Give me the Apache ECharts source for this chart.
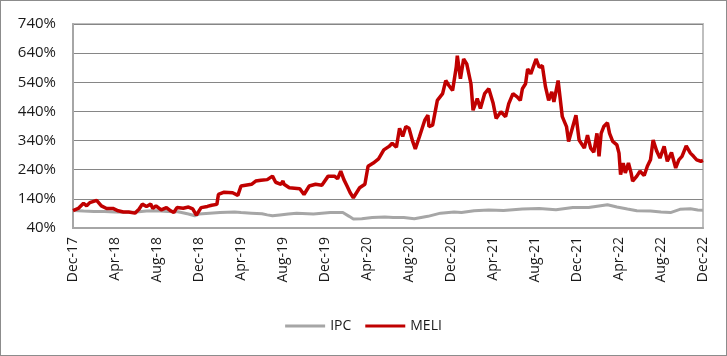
<!DOCTYPE html>
<html>
<head>
<meta charset="utf-8">
<script src="https://cdn.jsdelivr.net/npm/echarts@6/dist/echarts.min.js"></script>
<style>
  html, body { margin: 0; padding: 0; background: #fff; }
  #chart { width: 727px; height: 356px; box-sizing: border-box; border: 1px solid #8c8c8c; }
</style>
</head>
<body>
<div id="chart"></div>
<script>
// x positions are months elapsed since Dec-17
var xTickLabels = ['Dec-17','Apr-18','Aug-18','Dec-18','Apr-19','Aug-19','Dec-19','Apr-20',
                   'Aug-20','Dec-20','Apr-21','Aug-21','Dec-21','Apr-22','Aug-22','Dec-22'];

var ipcMonths = [0,1,2,3,4,5,6,7,8,9,10,11,11.6,12,13,14,15.4,16,17,18,18.5,19,19.7,20.5,21.3,22.9,24.5,25.7,26.3,26.7,27.5,28.5,29.7,30.5,31.5,32.5,33.8,35,36.3,37,38.2,39.6,41,42.8,44.4,46,47.6,49.1,49.6,50.9,51.8,52.8,53.7,55,56,56.9,57.8,58.8,59.5,60];
var ipcValues = [100,98,97,97,95,94,95,98,99,97,96,88,82,88,91,93,95,93,91,89,85,82,85,88,91,88,93,93,80,71,72,76,78,76,76,72,80,91,95,93,99,102,100,105,107,103,110,110,113,120,112,105,99,98,95,93,104,106,102,101];

var meliMonths = [0,0.5,1.0,1.3,1.6,2.25,2.7,3.2,3.8,4.3,4.8,5.3,5.9,6.3,6.6,7.0,7.4,7.6,7.9,8.4,8.9,9.3,9.6,9.9,10.5,11.0,11.4,11.75,12.2,12.8,13.2,13.7,13.85,14.4,15.2,15.7,16.0,17.0,17.4,17.9,18.5,19.0,19.3,19.8,20.0,20.1,20.6,21.6,22.0,22.5,23.1,23.7,24.3,24.9,25.2,25.5,25.8,26.1,26.4,26.7,27.0,27.3,27.8,28.1,28.6,29.1,29.6,30.1,30.4,30.8,31.1,31.4,31.7,32.0,32.35,32.6,33.0,33.5,33.8,33.9,34.25,34.7,35.2,35.5,35.8,36.15,36.5,36.6,36.9,37.2,37.5,37.9,38.1,38.5,38.8,39.2,39.6,40.0,40.3,40.75,41.2,41.5,41.9,42.3,42.6,42.8,43.1,43.3,43.6,44.1,44.4,44.7,45.0,45.3,45.6,45.8,46.2,46.6,47.0,47.2,47.6,47.9,48.2,48.7,49.0,49.3,49.6,49.9,50.1,50.3,50.55,50.9,51.1,51.4,51.8,52.0,52.15,52.4,52.6,52.9,53.15,53.3,53.7,54.0,54.4,54.7,55.0,55.25,55.6,55.9,56.3,56.6,57.0,57.4,57.7,58.0,58.4,58.8,59.1,59.4,59.8,60.0];
var meliValues = [100,107,125,116,127,135,116,107,107,99,95,95,91,105,122,114,122,107,116,102,110,99,93,110,108,112,106,84,110,114,118,121,155,163,161,152,184,190,201,204,206,218,197,190,201,190,178,175,155,184,190,187,218,218,209,235,206,184,161,144,161,178,190,252,263,277,308,320,331,317,382,354,388,382,337,311,354,410,427,388,393,478,501,546,529,512,592,631,552,620,603,535,444,484,450,501,518,470,416,439,422,467,501,490,478,518,535,586,569,620,592,597,524,478,507,473,546,422,388,337,388,427,342,314,359,314,300,365,286,365,388,401,365,337,325,297,223,263,229,263,229,201,218,235,220,252,274,342,303,280,320,269,299,246,274,286,322,297,286,274,269,272];

function zip(xs, ys) { return xs.map(function (x, i) { return [x, ys[i]]; }); }

var chart = echarts.init(document.getElementById('chart'));
var fontFam = '"Open Sans", "Noto Sans", sans-serif';
chart.setOption({
  animation: false,
  grid: { left: 72, right: 23, top: 23, bottom: 127, show: true, borderColor: '#bfbfbf', borderWidth: 2 },
  xAxis: {
    type: 'value', min: 0, max: 60, interval: 4,
    axisLine: { show: true, lineStyle: { color: '#a6a6a6', width: 2 } },
    axisTick: { show: false },
    splitLine: { show: false },
    axisLabel: {
      rotate: 90, margin: 9, color: '#1a1a1a', fontSize: 14, fontFamily: fontFam,
      formatter: function (v) { return xTickLabels[Math.round(v / 4)] || ''; }
    }
  },
  yAxis: {
    type: 'value', min: 40, max: 740, interval: 100,
    axisLine: { show: true, lineStyle: { color: '#a6a6a6', width: 2 } },
    axisTick: { show: false },
    splitLine: { show: true, lineStyle: { color: '#868686', width: 1 } },
    axisLabel: { margin: 17, color: '#1a1a1a', fontSize: 15, fontFamily: fontFam, formatter: '{value}%' }
  },
  legend: {
    bottom: 17, left: 'center', icon: 'rect', itemWidth: 40, itemHeight: 3, itemGap: 14,
    textStyle: { fontSize: 14, color: '#1a1a1a', fontFamily: fontFam },
    data: ['IPC', 'MELI']
  },
  series: [
    { name: 'IPC', type: 'line', data: zip(ipcMonths, ipcValues), showSymbol: false, symbol: 'none',
      lineStyle: { color: '#a6a6a6', width: 3 }, itemStyle: { color: '#a6a6a6' } },
    { name: 'MELI', type: 'line', data: zip(meliMonths, meliValues), showSymbol: false, symbol: 'none',
      lineStyle: { color: '#c00000', width: 3.5 }, itemStyle: { color: '#c00000' } }
  ]
});
</script>
</body>
</html>
